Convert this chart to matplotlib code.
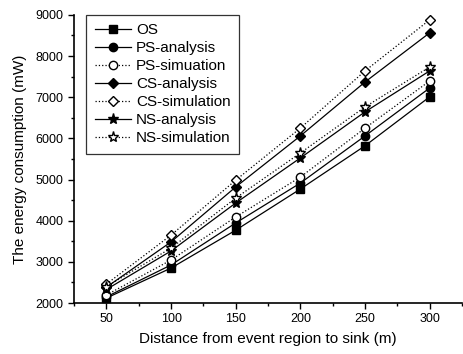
import numpy as np
import matplotlib
matplotlib.use('Agg')
import matplotlib.pyplot as plt
from matplotlib.ticker import MultipleLocator

plt.rcParams['font.family'] = ['Liberation Sans', 'DejaVu Sans']

distance = [50, 100, 150, 200, 250, 300]
os_vals = [2120, 2850, 3770, 4770, 5820, 7010]
ps_analysis = [2150, 2925, 3945, 4915, 6060, 7225]
ps_simulation = [2195, 3045, 4090, 5060, 6250, 7395]
cs_analysis = [2385, 3485, 4820, 6060, 7370, 8565]
cs_simulation = [2460, 3650, 4985, 6250, 7640, 8880]
ns_analysis = [2330, 3265, 4430, 5525, 6645, 7640]
ns_simulation = [2400, 3335, 4550, 5645, 6765, 7735]

fig = plt.figure(figsize=(4.63, 3.54), dpi=100)
ax = fig.add_axes([0.16, 0.144, 0.838, 0.814])

lw = 0.9
ms = 6
ax.plot(distance, os_vals, '-', marker='s', color='k', mfc='k', lw=lw, ms=ms, label='OS')
ax.plot(distance, ps_analysis, '-', marker='o', color='k', mfc='k', lw=lw, ms=ms, label='PS-analysis')
ax.plot(distance, ps_simulation, ':', marker='o', color='k', mfc='white', lw=lw, ms=ms, label='PS-simuation')
ax.plot(distance, cs_analysis, '-', marker='D', color='k', mfc='k', lw=lw, ms=ms - 0.5, label='CS-analysis')
ax.plot(distance, cs_simulation, ':', marker='D', color='k', mfc='white', lw=lw, ms=ms - 0.5, label='CS-simulation')
ax.plot(distance, ns_analysis, '-', marker='*', color='k', mfc='k', lw=lw, ms=ms + 2, label='NS-analysis')
ax.plot(distance, ns_simulation, ':', marker='*', color='k', mfc='white', lw=lw, ms=ms + 2, label='NS-simulation')

ax.set_xlim(25, 325)
ax.set_ylim(2000, 9000)
ax.xaxis.set_major_locator(MultipleLocator(50))
ax.xaxis.set_minor_locator(MultipleLocator(25))
ax.yaxis.set_major_locator(MultipleLocator(1000))
ax.yaxis.set_minor_locator(MultipleLocator(500))
ax.tick_params(which='major', direction='out', length=4, width=1, labelsize=9)
ax.tick_params(which='minor', direction='out', length=2.5, width=1)

ax.spines['top'].set_visible(False)
ax.spines['right'].set_visible(False)
ax.spines['left'].set_linewidth(1.2)
ax.spines['bottom'].set_linewidth(1.2)

ax.set_xlabel('Distance from event region to sink (m)', fontsize=11, labelpad=5)
ax.set_ylabel('The energy consumption (mW)', fontsize=11, labelpad=6)

leg = ax.legend(loc='upper left', fontsize=11, frameon=True, fancybox=False,
                edgecolor='k', handlelength=2.4, handletextpad=0.3,
                labelspacing=0.26, borderpad=0.55, borderaxespad=0,
                bbox_to_anchor=(0.031, 1.0))
leg.get_frame().set_linewidth(0.9)

fig.savefig('out.png', dpi=100)
